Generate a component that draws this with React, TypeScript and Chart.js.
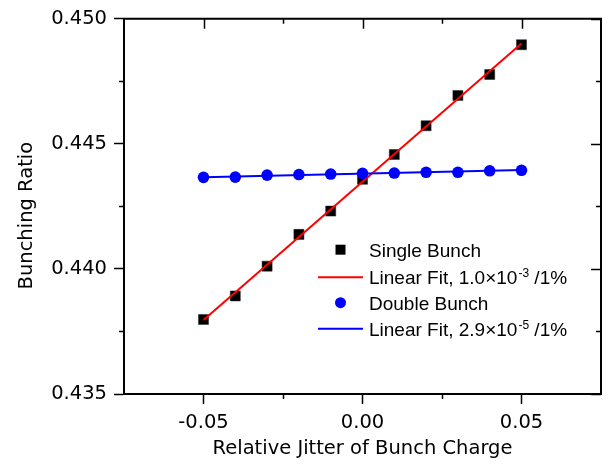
import { useEffect, useRef } from 'react';
import { Chart, registerables } from 'chart.js';

Chart.register(...registerables);

// ---- data ----
const xValues = [-0.05, -0.04, -0.03, -0.02, -0.01, 0, 0.01, 0.02, 0.03, 0.04, 0.05];
const singleBunch = [0.43798, 0.43892, 0.44011, 0.44138, 0.44231, 0.44358, 0.44457, 0.44572, 0.44693, 0.44777, 0.44896];
const doubleBunch = [0.44366, 0.44367, 0.44375, 0.44377, 0.44379, 0.44382, 0.44383, 0.44386, 0.44386, 0.44392, 0.44394];
const fitX = [-0.05, 0.05];
const singleFit = [0.43796, 0.44901];
const doubleFit = [0.44366, 0.44395];

const xMajorTicks = [-0.05, 0, 0.05];
const xMinorTicks = [-0.025, 0.025];
const yMajorTicks = [0.435, 0.44, 0.445, 0.45];
const yMinorTicks = [0.4375, 0.4425, 0.4475];

const legendMain = ['Single Bunch', 'Linear Fit, 1.0\u00D710', 'Double Bunch', 'Linear Fit, 2.9\u00D710'];
const legendSup = ['', '-3', '', '-5'];
const legendTail = ['', ' /1%', '', ' /1%'];

const AXIS_FONT = "'DejaVu Sans', sans-serif";
const LEGEND_FONT = "'Liberation Sans', Arial, sans-serif";

const pts = (xs: number[], ys: number[]) => xs.map((x, i) => ({ x, y: ys[i] }));

const framePlugin = {
  id: 'frameTicks',
  afterDraw(chart: any) {
    const ctx = chart.ctx;
    const { left, right, top, bottom } = chart.chartArea;
    const xs = chart.scales.x;
    const ys = chart.scales.y;
    ctx.save();
    ctx.strokeStyle = '#000';
    ctx.lineWidth = 2;
    ctx.beginPath();
    ctx.moveTo(left - 1, top);
    ctx.lineTo(right, top);
    ctx.lineTo(right, bottom + 1);
    ctx.stroke();
    ctx.lineWidth = 1.5;
    ctx.beginPath();
    xMajorTicks.forEach((v) => {
      const p = Math.round(xs.getPixelForValue(v)) + 0.5;
      ctx.moveTo(p, top);
      ctx.lineTo(p, top + 10);
    });
    xMinorTicks.forEach((v) => {
      const p = Math.round(xs.getPixelForValue(v)) + 0.5;
      ctx.moveTo(p, bottom);
      ctx.lineTo(p, bottom + 5);
      ctx.moveTo(p, top);
      ctx.lineTo(p, top + 5);
    });
    yMajorTicks.forEach((v) => {
      const p = Math.round(ys.getPixelForValue(v)) + 0.5;
      ctx.moveTo(right, p);
      ctx.lineTo(right - 10, p);
    });
    yMinorTicks.forEach((v) => {
      const p = Math.round(ys.getPixelForValue(v)) + 0.5;
      ctx.moveTo(left, p);
      ctx.lineTo(left - 5, p);
      ctx.moveTo(right, p);
      ctx.lineTo(right - 5, p);
    });
    ctx.stroke();
    ctx.restore();
  },
};

const legendPlugin = {
  id: 'customLegend',
  afterDraw(chart: any) {
    const ctx = chart.ctx;
    const { left, top } = chart.chartArea;
    const sampleL = left + 194;
    const sampleR = left + 239;
    const markX = (sampleL + sampleR) / 2;
    const textX = left + 245;
    const rows = [top + 231, top + 258.5, top + 284, top + 310];
    ctx.save();
    rows.forEach((ry, i) => {
      if (i === 0) {
        ctx.fillStyle = '#000';
        ctx.fillRect(markX - 5, ry - 5, 10, 10);
      } else if (i === 2) {
        ctx.fillStyle = '#0000ff';
        ctx.beginPath();
        ctx.arc(markX, ry, 5.5, 0, Math.PI * 2);
        ctx.fill();
      } else {
        ctx.strokeStyle = i === 1 ? '#ff0000' : '#0000ff';
        ctx.lineWidth = 2;
        ctx.beginPath();
        ctx.moveTo(sampleL, ry);
        ctx.lineTo(sampleR, ry);
        ctx.stroke();
      }
      ctx.fillStyle = '#000';
      ctx.textBaseline = 'alphabetic';
      ctx.textAlign = 'left';
      ctx.font = `19px ${LEGEND_FONT}`;
      const base = ry + 7;
      ctx.fillText(legendMain[i], textX, base);
      let x = textX + ctx.measureText(legendMain[i]).width;
      if (legendSup[i]) {
        ctx.font = `12px ${LEGEND_FONT}`;
        ctx.fillText(legendSup[i], x + 1, base - 7);
        x += ctx.measureText(legendSup[i]).width + 1;
        ctx.font = `19px ${LEGEND_FONT}`;
        ctx.fillText(legendTail[i], x, base);
      }
    });
    ctx.restore();
  },
};

export default function App() {
  const canvasRef = useRef<HTMLCanvasElement | null>(null);

  useEffect(() => {
    if (!canvasRef.current) return;
    const axisFont = { family: AXIS_FONT, size: 19.5 };
    const chart = new Chart(canvasRef.current, {
      type: 'scatter',
      data: {
        datasets: [
          {
            label: 'Single Bunch',
            data: pts(xValues, singleBunch),
            pointStyle: 'rect',
            pointRadius: 7.1,
            pointHoverRadius: 7.1,
            backgroundColor: '#000000',
            borderColor: '#222222',
            borderWidth: 0.5,
            showLine: false,
            order: 4,
          },
          {
            label: 'Linear Fit, 1.0×10^-3 /1%',
            data: pts(fitX, singleFit),
            showLine: true,
            pointRadius: 0,
            borderColor: '#ff0000',
            borderWidth: 2,
            backgroundColor: '#ff0000',
            order: 3,
          },
          {
            label: 'Double Bunch',
            data: pts(xValues, doubleBunch),
            pointStyle: 'circle',
            pointRadius: 5.8,
            pointHoverRadius: 5.8,
            backgroundColor: '#0000ff',
            borderColor: '#0000ff',
            borderWidth: 0,
            showLine: false,
            order: 2,
          },
          {
            label: 'Linear Fit, 2.9×10^-5 /1%',
            data: pts(fitX, doubleFit),
            showLine: true,
            pointRadius: 0,
            borderColor: '#0000ff',
            borderWidth: 2,
            backgroundColor: '#0000ff',
            order: 1,
          },
        ],
      },
      options: {
        animation: false,
        responsive: true,
        maintainAspectRatio: false,
        layout: { padding: { top: 18, right: 12, left: 0, bottom: 0 } },
        plugins: { legend: { display: false }, tooltip: { enabled: false } },
        scales: {
          x: {
            type: 'linear',
            min: -0.075,
            max: 0.075,
            afterBuildTicks: (s: any) => {
              s.ticks = xMajorTicks.map((v) => ({ value: v }));
            },
            afterFit: (s: any) => {
              s.height = 72;
            },
            ticks: {
              callback: (v: any) => Number(v).toFixed(2),
              font: axisFont,
              color: '#000',
              padding: 7,
              maxRotation: 0,
              autoSkip: false,
            },
            grid: {
              drawOnChartArea: false,
              drawTicks: true,
              tickLength: 10,
              tickWidth: 1.5,
              tickColor: '#000',
            },
            border: { color: '#000', width: 2 },
            title: {
              display: true,
              text: 'Relative Jitter of Bunch Charge',
              font: axisFont,
              color: '#000',
              padding: { top: 0, bottom: 5 },
            },
          },
          y: {
            type: 'linear',
            min: 0.435,
            max: 0.45,
            afterBuildTicks: (s: any) => {
              s.ticks = yMajorTicks.map((v) => ({ value: v }));
            },
            afterFit: (s: any) => {
              s.width = 124;
            },
            ticks: {
              callback: (v: any) => Number(v).toFixed(3),
              font: axisFont,
              color: '#000',
              padding: 7,
              autoSkip: false,
            },
            grid: {
              drawOnChartArea: false,
              drawTicks: true,
              tickLength: 10,
              tickWidth: 1.5,
              tickColor: '#000',
            },
            border: { color: '#000', width: 2 },
            title: {
              display: true,
              text: 'Bunching Ratio   ',
              font: axisFont,
              color: '#000',
              padding: { top: 15, bottom: 0 },
            },
          },
        },
      },
      plugins: [framePlugin, legendPlugin],
    });
    return () => chart.destroy();
  }, []);

  return (
    <div style={{ position: 'absolute', left: 0, top: 0, width: 613, height: 466, background: '#fff' }}>
      <canvas ref={canvasRef} />
    </div>
  );
}
